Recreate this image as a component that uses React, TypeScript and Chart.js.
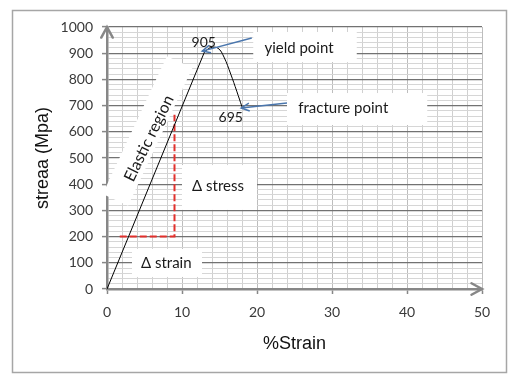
import React, { useEffect, useRef } from 'react';
import { Chart, registerables } from 'chart.js';

Chart.register(...registerables);

// ---- data ----
const elasticLine = [
  { x: 0, y: 0 },
  { x: 13, y: 905 },
];
const plasticCurve = [
  { x: 13, y: 905 },
  { x: 13.8, y: 921 },
  { x: 14.8, y: 919 },
  { x: 15.6, y: 885 },
  { x: 16.5, y: 820 },
  { x: 17.3, y: 755 },
  { x: 18, y: 695 },
];
const deltaGuide = [
  { x: 1.7, y: 200 },
  { x: 9, y: 200 },
  { x: 9, y: 665 },
];
const xTickLabels = [0, 10, 20, 30, 40, 50];
const yTickLabels = [0, 100, 200, 300, 400, 500, 600, 700, 800, 900, 1000];
const yieldPoint = { x: 13, y: 905, label: '905' };
const fracturePoint = { x: 18, y: 695, label: '695' };

// annotation boxes in data units
const labelBoxes = [
  { text: 'yield point', x0: 19.5, x1: 33.3, y0: 866, y1: 981, tx: 25.6, ty: 920 },
  { text: 'fracture point', x0: 24.0, x1: 42.7, y0: 626, y1: 748, tx: 31.5, ty: 691 },
  { text: '\u0394 stress', x0: 10, x1: 20, y0: 302, y1: 473, tx: 14.8, ty: 393 },
  { text: '\u0394 strain', x0: 3.33, x1: 12.67, y0: 46, y1: 153, tx: 7.9, ty: 99 },
];
const elasticNote = { text: 'Elastic region', bx: 5.4, by: 603, tx: 5.6, ty: 575 };
const arrows = [
  { fx: 19.3, fy: 958, tx: 12.7, ty: 908 },
  { fx: 24.0, fy: 710, tx: 17.9, ty: 691 },
];
const valueLabels = [
  { text: yieldPoint.label, x: 12.9, y: 941 },
  { text: fracturePoint.label, x: 16.5, y: 656 },
];

const TEXT_FONT = 'Lato, "Noto Sans", sans-serif';

function drawArrowHead(ctx: CanvasRenderingContext2D, fx: number, fy: number, tx: number, ty: number, len: number, ang: number) {
  const a = Math.atan2(ty - fy, tx - fx);
  ctx.beginPath();
  ctx.moveTo(tx - len * Math.cos(a - ang), ty - len * Math.sin(a - ang));
  ctx.lineTo(tx, ty);
  ctx.lineTo(tx - len * Math.cos(a + ang), ty - len * Math.sin(a + ang));
  ctx.stroke();
}

const annotationPlugin = {
  id: 'annotations',
  beforeDraw(chart: any) {
    const ctx = chart.ctx;
    ctx.save();
    ctx.fillStyle = '#ffffff';
    ctx.fillRect(0, 0, chart.width, chart.height);
    ctx.strokeStyle = '#a6a6a6';
    ctx.lineWidth = 1.5;
    ctx.strokeRect(12.5, 10.5, 494, 362);
    ctx.restore();
  },
  beforeDatasetsDraw(chart: any) {
    const ctx = chart.ctx;
    const xs = chart.scales.x;
    const ys = chart.scales.y;
    ctx.save();
    ctx.fillStyle = '#ffffff';
    for (const b of labelBoxes) {
      const l = xs.getPixelForValue(b.x0);
      const r = xs.getPixelForValue(b.x1);
      const t = ys.getPixelForValue(b.y1);
      const bt = ys.getPixelForValue(b.y0);
      ctx.fillRect(l, t, r - l, bt - t);
    }
    // rotated box for elastic region
    const cx = xs.getPixelForValue(elasticNote.bx);
    const cy = ys.getPixelForValue(elasticNote.by);
    ctx.translate(cx, cy);
    ctx.rotate((-65 * Math.PI) / 180);
    ctx.fillRect(-76, -14, 152, 28);
    ctx.restore();
  },
  afterDatasetsDraw(chart: any) {
    const ctx = chart.ctx;
    const xs = chart.scales.x;
    const ys = chart.scales.y;
    const area = chart.chartArea;
    ctx.save();
    // axis arrowheads
    ctx.strokeStyle = '#878787';
    ctx.lineWidth = 2.5;
    ctx.lineCap = 'round';
    drawArrowHead(ctx, area.left, area.bottom, area.left, area.top, 12, 0.5);
    drawArrowHead(ctx, area.left, area.bottom, area.right, area.bottom, 12, 0.5);

    // label text
    ctx.fillStyle = '#1a1a1a';
    ctx.textAlign = 'center';
    ctx.textBaseline = 'middle';
    ctx.font = `15px ${TEXT_FONT}`;
    for (const b of labelBoxes) {
      ctx.fillText(b.text, xs.getPixelForValue(b.tx), ys.getPixelForValue(b.ty));
    }
    ctx.font = `14px ${TEXT_FONT}`;
    for (const v of valueLabels) {
      ctx.fillText(v.text, xs.getPixelForValue(v.x), ys.getPixelForValue(v.y));
    }
    // elastic region text
    ctx.save();
    ctx.translate(xs.getPixelForValue(elasticNote.tx), ys.getPixelForValue(elasticNote.ty));
    ctx.rotate((-64 * Math.PI) / 180);
    ctx.font = `16px ${TEXT_FONT}`;
    ctx.fillText(elasticNote.text, 0, 0);
    ctx.restore();

    // blue arrows
    ctx.strokeStyle = '#4a76ad';
    ctx.lineWidth = 1.5;
    ctx.lineCap = 'butt';
    for (const a of arrows) {
      const fx = xs.getPixelForValue(a.fx);
      const fy = ys.getPixelForValue(a.fy);
      const tx = xs.getPixelForValue(a.tx);
      const ty = ys.getPixelForValue(a.ty);
      ctx.beginPath();
      ctx.moveTo(fx, fy);
      ctx.lineTo(tx, ty);
      ctx.stroke();
      drawArrowHead(ctx, fx, fy, tx, ty, 9, 0.45);
    }

    // axis titles
    ctx.fillStyle = '#111111';
    ctx.font = '18px "Liberation Sans", Arial, sans-serif';
    ctx.textAlign = 'center';
    ctx.textBaseline = 'middle';
    ctx.fillText('%Strain', (area.left + area.right) / 2, 344);
    ctx.translate(43, (area.top + area.bottom) / 2);
    ctx.rotate(-Math.PI / 2);
    ctx.fillText('streaa (Mpa)', 0, 0);
    ctx.restore();
  },
};

export default function App() {
  const canvasRef = useRef<HTMLCanvasElement | null>(null);

  useEffect(() => {
    document.body.style.margin = '0';
    const canvas = canvasRef.current;
    if (!canvas) return;
    const chart = new Chart(canvas, {
      type: 'line',
      data: {
        datasets: [
          {
            data: elasticLine,
            borderColor: '#000000',
            borderWidth: 1,
            pointRadius: 0,
            tension: 0,
          },
          {
            data: plasticCurve,
            borderColor: '#000000',
            borderWidth: 1,
            pointRadius: 0,
            tension: 0.4,
          },
          {
            data: deltaGuide,
            borderColor: '#e2302c',
            borderWidth: 2,
            borderDash: [7, 3],
            pointRadius: 0,
            tension: 0,
          },
        ],
      },
      options: {
        responsive: false,
        animation: false,
        devicePixelRatio: 1,
        layout: { padding: { left: 47, right: 36, top: 27, bottom: 32 } },
        plugins: { legend: { display: false }, tooltip: { enabled: false } },
        scales: {
          x: {
            type: 'linear',
            min: 0,
            max: 50,
            afterFit: (s: any) => {
              s.height = 60;
            },
            ticks: {
              stepSize: 2,
              autoSkip: false,
              maxRotation: 0,
              padding: 10,
              color: '#3a3a3a',
              font: { family: TEXT_FONT, size: 14 },
              callback: (v: any) => (xTickLabels.includes(Number(v)) ? String(v) : ''),
            },
            grid: {
              color: (c: any) => (c.tick && c.tick.value % 10 === 0 ? '#bdbdbd' : '#d0d0d0'),
              lineWidth: 1,
              tickLength: 5,
              tickColor: (c: any) => (c.tick && c.tick.value % 10 === 0 ? '#878787' : 'rgba(0,0,0,0)'),
              tickWidth: 1.5,
            },
            border: { color: '#878787', width: 2.5 },
          },
          y: {
            type: 'linear',
            min: 0,
            max: 1000,
            afterFit: (s: any) => {
              s.width = 60;
            },
            ticks: {
              stepSize: 20,
              autoSkip: false,
              padding: 9,
              color: '#3a3a3a',
              font: { family: TEXT_FONT, size: 14 },
              callback: (v: any) => (yTickLabels.includes(Number(v)) ? String(v) : ''),
            },
            grid: {
              color: (c: any) => (c.tick && c.tick.value % 100 === 0 ? '#727272' : '#d6d6d6'),
              lineWidth: (c: any) => (c.tick && c.tick.value % 100 === 0 ? 1.2 : 1),
              tickLength: 5,
              tickColor: (c: any) => (c.tick && c.tick.value % 100 === 0 ? '#878787' : 'rgba(0,0,0,0)'),
              tickWidth: 1.5,
            },
            border: { color: '#878787', width: 2.5 },
          },
        },
      } as any,
      plugins: [annotationPlugin],
    });
    return () => chart.destroy();
  }, []);

  return (
    <div style={{ width: 518, height: 381 }}>
      <canvas ref={canvasRef} width={518} height={381} style={{ display: 'block' }} />
    </div>
  );
}
